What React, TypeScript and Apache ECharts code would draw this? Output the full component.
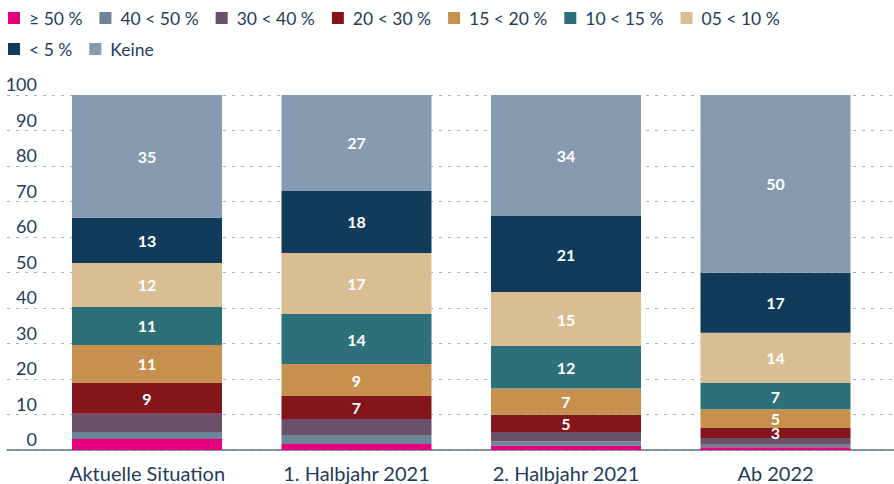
import React, { useEffect, useRef } from "react";
import * as echarts from "echarts";

const categories = ["Aktuelle Situation", "1. Halbjahr 2021", "2. Halbjahr 2021", "Ab 2022"];
const seriesNames = ["≥ 50 %", "40 < 50 %", "30 < 40 %", "20 < 30 %", "15 < 20 %", "10 < 15 %", "05 < 10 %", "< 5 %", "Keine"];
const s50 = [3.1, 1.7, 1.2, 0.8];
const s40 = [2.0, 2.5, 1.3, 0.7];
const s30 = [5.1, 4.5, 2.6, 1.9];
const s20 = [8.7, 6.5, 4.8, 2.8];
const s15 = [10.7, 9.0, 7.4, 5.3];
const s10 = [10.7, 14.1, 12.0, 7.4];
const s05 = [12.4, 17.2, 15.2, 14.1];
const s00 = [12.7, 17.6, 21.4, 16.9];
const keine = [34.6, 26.9, 34.1, 50.1];
const seriesData = [s50, s40, s30, s20, s15, s10, s05, s00, keine];
const colors = ["#e6007e", "#6e8498", "#6a5068", "#84161b", "#c6914e", "#2e7079", "#d9bd93", "#113b5b", "#869ab1"];
const labelled = [false, false, false, true, true, true, true, true, true];

const FONT = "Lato";
const TEXT = "#1d3d5c";

const legendBase = {
  left: 8,
  padding: 0,
  itemWidth: 12,
  itemHeight: 12,
  itemGap: 17,
  icon: "rect",
  textStyle: { fontFamily: FONT, fontSize: 17.5, color: TEXT, padding: [0, 0, 0, 4] },
};

export default function App() {
  const ref = useRef<HTMLDivElement>(null);
  useEffect(() => {
    if (!ref.current) return;
    const chart = echarts.init(ref.current, null, { renderer: "svg" });
    chart.setOption({
      animation: false,
      textStyle: { fontFamily: FONT },
      legend: [
        { ...legendBase, top: 9, data: seriesNames.slice(0, 7) },
        { ...legendBase, top: 40, data: seriesNames.slice(7) },
      ],
      grid: [
        { left: 7, right: 0, top: 95, bottom: 34 },
        { left: 42.25, right: 13.75, top: 95, bottom: 34 },
      ],
      xAxis: [
        {
          type: "category",
          gridIndex: 0,
          data: categories,
          axisLine: { show: true, lineStyle: { color: "#5f7286", width: 1.5 } },
          axisTick: { show: false },
          axisLabel: { show: false },
        },
        {
          type: "category",
          gridIndex: 1,
          data: categories,
          axisLine: { show: false },
          axisTick: { show: false },
          axisLabel: { fontFamily: FONT, fontSize: 20, color: TEXT, margin: 13 },
        },
      ],
      yAxis: [
        {
          type: "value",
          gridIndex: 0,
          min: 0,
          max: 100,
          interval: 10,
          axisLine: { show: false },
          axisTick: { show: false },
          splitLine: { show: true, lineStyle: { color: "#9fb1c4", type: [3, 6], width: 1 } },
          axisLabel: {
            inside: true,
            margin: 30,
            align: "right",
            verticalAlign: "bottom",
            lineHeight: 22,
            fontFamily: FONT,
            fontSize: 18,
            color: TEXT,
          },
        },
        {
          type: "value",
          gridIndex: 1,
          min: 0,
          max: 100,
          interval: 10,
          show: false,
          splitLine: { show: false },
        },
      ],
      series: seriesNames.map((name, i) => ({
        name,
        type: "bar",
        stack: "total",
        xAxisIndex: 1,
        yAxisIndex: 1,
        barWidth: 150,
        data: seriesData[i],
        itemStyle: { color: colors[i] },
        label: {
          show: labelled[i],
          position: "inside",
          color: "#ffffff",
          fontFamily: FONT,
          fontSize: 16,
          fontWeight: "bold",
          formatter: (p: any) => String(Math.round(p.value)),
        },
      })),
    });
    return () => chart.dispose();
  }, []);
  return <div ref={ref} style={{ width: 894, height: 484, position: "absolute", left: 0, top: 0 }} />;
}
